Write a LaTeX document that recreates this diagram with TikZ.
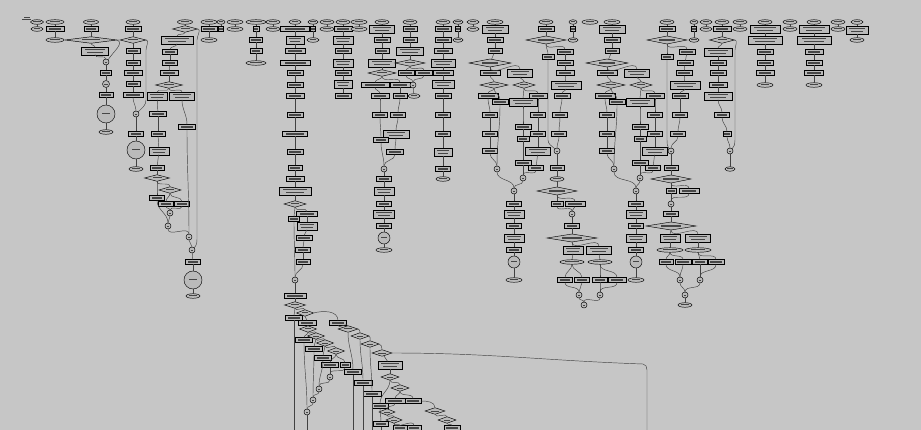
\documentclass[tikz,border=0pt]{standalone}
\usetikzlibrary{shapes.geometric,calc}
\definecolor{bgc}{RGB}{198,198,198}
\definecolor{bxf}{RGB}{186,186,186}
\definecolor{txc}{RGB}{70,70,70}
\definecolor{edc}{RGB}{65,65,65}
\tikzset{
 tb/.style 2 args={path picture={\fill[txc] ($(path picture bounding box.west)!#1!(path picture bounding box.east)+(0,#2)$) rectangle ($(path picture bounding box.east)!#1!(path picture bounding box.west)+(0,-#2)$);}},
 tbb/.style={path picture={\fill[txc] ($(path picture bounding box.west)!0.14!(path picture bounding box.east)+(0,2.0)$) rectangle ($(path picture bounding box.east)!0.14!(path picture bounding box.west)+(0,0.9)$); \fill[txc] ($(path picture bounding box.west)!0.22!(path picture bounding box.east)+(0,-0.9)$) rectangle ($(path picture bounding box.east)!0.22!(path picture bounding box.west)+(0,-2.0)$);}},
 shp/.style={draw=black,line width=0.45pt,fill=bxf,inner sep=0pt,outer sep=0pt},
 bx/.style={shp,rectangle,minimum height=5pt,tb={0.15}{0.55}},
 bb/.style={shp,rectangle,minimum height=7.5pt,tbb},
 el/.style={shp,ellipse,minimum height=4.6pt,tb={0.22}{0.5}},
 dm/.style={shp,diamond,minimum height=6.5pt,tb={0.32}{0.5}},
 dmh/.style={shp,diamond,minimum height=8pt,tb={0.3}{0.7}},
 ci/.style={shp,circle,tb={0.28}{0.4}},
 cc/.style={shp,circle,tb={0.28}{0.5}},
 ed/.style={draw=edc,line width=0.45pt},
}
\newcommand\Nd[5]{\node[#2,minimum width=#5pt] (#1) at (#3,-#4) {};}
\newcommand\Ln[2]{\draw[ed] (#1) -- (#2);}
\newcommand\Sc[2]{\draw[ed] (#1.south) to[out=-90,in=90] (#2.north);}
\newcommand\Rblock[3]{%
\Nd{#11}{el}{495+#2}{22}{16}
\Nd{#12}{bb}{495+#2}{29}{26}
\Nd{#13}{bx}{495+#2}{40}{16}
\Nd{#14}{bx}{495+#2}{51}{14}
\Nd{#15}{dmh}{490+#2}{63}{42}
\Nd{#16}{bx}{490+#2}{73}{20}
\Nd{#17}{bb}{520+#2}{73}{25}
\Nd{#18}{dm}{494+#2}{85}{28}
\Nd{#19}{dm}{524+#2}{85}{22}
\Nd{#110}{bx}{488+#2}{96}{20}
\Nd{#111}{bx}{500+#2}{102}{16}
\Nd{#112}{bb}{523+#2}{102}{28}
\Nd{#113}{bx}{538+#2}{96}{18}
\Nd{#114}{bx}{490+#2}{115}{15}
\Nd{#115}{bx}{490+#2}{134}{15}
\Nd{#116}{bx}{490+#2}{151}{15}
\Nd{#117}{ci}{497+#2}{169}{6}
\Nd{#118}{bx}{523+#2}{127}{16}
\Nd{#119}{bx}{523+#2}{139}{12}
\Nd{#120}{bx}{523+#2}{163}{16}
\Nd{#121}{ci}{523+#2}{178}{6}
\Nd{#122}{bx}{538+#2}{115}{15}
\Nd{#123}{bx}{538+#2}{134}{15}
\Nd{#124}{bb}{538+#2}{151}{25}
\Nd{#125}{bx}{536+#2}{168}{15}
\Nd{#126}{ci}{514+#3}{191}{6}
\Nd{#127}{bx}{514+#3}{204}{15}
\Nd{#128}{bb}{514+#3}{214}{20}
\Nd{#129}{bx}{514+#3}{226}{15}
\Nd{#130}{bb}{514+#3}{238}{20}
\Nd{#131}{bx}{514+#3}{250}{15}
\Nd{#132}{cc}{514+#3}{262}{12}
\Nd{#133}{el}{514+#3}{280}{16}
\Ln{#11}{#12}\Ln{#12}{#13}\Ln{#13}{#14}\Ln{#14}{#15}
\Sc{#15}{#16}\Sc{#15}{#17}\Sc{#16}{#18}\Sc{#17}{#19}
\Sc{#18}{#110}\Sc{#18}{#111}\Sc{#19}{#112}\Sc{#19}{#113}
\Sc{#110}{#114}\Ln{#114}{#115}\Ln{#115}{#116}\Sc{#116}{#117}\Sc{#111}{#117}
\Sc{#112}{#118}\Ln{#118}{#119}\Ln{#119}{#120}\Ln{#120}{#121}
\Sc{#113}{#122}\Ln{#122}{#123}\Ln{#123}{#124}\Ln{#124}{#125}\Sc{#125}{#121}
\Sc{#117}{#126}\Sc{#121}{#126}
\Ln{#126}{#127}\Ln{#127}{#128}\Ln{#128}{#129}\Ln{#129}{#130}\Ln{#130}{#131}\Ln{#131}{#132}\Ln{#132}{#133}
}
\begin{document}
\begin{tikzpicture}[x=1pt,y=1pt]
\useasboundingbox (0,0) rectangle (921,-430);
\fill[bgc] (0,0) rectangle (921,-430);
\clip (0,0) rectangle (921,-430);
% title mark
\fill[txc] (24,-16.6) rectangle (30,-17.5);
\fill[txc] (22,-19.2) rectangle (31,-20.1);
% A
\Nd{a1}{el}{37}{22}{13}\Nd{a2}{el}{37}{29}{12}\Ln{a1}{a2}
\Nd{a3}{el}{55}{22}{18}\Nd{a4}{bx}{55}{29}{18}\Nd{a5}{el}{55}{40}{18}\Ln{a3}{a4}\Ln{a4}{a5}
% B
\Nd{b1}{el}{91}{22}{15}\Nd{b2}{bx}{91}{29}{14}\Nd{b3}{dm}{91}{40}{52}\Nd{b4}{bb}{95}{51}{27}
\Nd{b5}{ci}{106}{62}{6}\Nd{b6}{bx}{106}{73}{11}\Nd{b7}{ci}{106}{84}{7}\Nd{b8}{bx}{106}{95}{14}
\Nd{b9}{cc}{106}{114}{18}\Nd{b10}{el}{106}{132}{14}
\Ln{b1}{b2}\Ln{b2}{b3}\Sc{b3}{b4}\Sc{b4}{b5}
\draw[ed] (b3.east) to[out=-20,in=60] (b5.north east);
\Ln{b5}{b6}\Ln{b6}{b7}\Ln{b7}{b8}\Ln{b8}{b9}\Ln{b9}{b10}
% C
\Nd{c1}{el}{133}{22}{14}\Nd{c2}{bx}{133}{29}{16}\Nd{c3}{dm}{133}{40}{26}\Nd{c4}{bx}{133}{51}{14}
\Nd{c5}{bx}{133}{63}{14}\Nd{c6}{bx}{133}{73}{18}\Nd{c7}{bx}{133}{84}{14}\Nd{c8}{bx}{133}{95}{20}
\Nd{c9}{ci}{136}{114}{6}\Nd{c10}{bx}{136}{134}{15}\Nd{c11}{cc}{136}{150}{18}\Nd{c12}{el}{136}{169}{14}
\Ln{c1}{c2}\Ln{c2}{c3}\Ln{c3}{c4}\Ln{c4}{c5}\Ln{c5}{c6}\Ln{c6}{c7}\Ln{c7}{c8}\Sc{c8}{c9}
\Ln{c9}{c10}\Ln{c10}{c11}\Ln{c11}{c12}
\draw[ed] (c3.east) to[out=0,in=90] (146,-50) -- (146,-100) to[out=-90,in=45] (c9.north east);
% D
\Nd{d1}{el}{185}{22}{15}\Nd{d2}{dm}{185}{29}{25}\Nd{d3}{bb}{177}{40}{32}\Nd{d4}{bx}{170}{52}{15}
\Nd{d5}{bx}{170}{63}{15}\Nd{d6}{bx}{169}{73}{18}\Nd{d7}{dm}{169}{85}{27}\Nd{d8}{bb}{157}{96}{20}
\Nd{d9}{bb}{182}{96}{25}\Nd{d10}{bx}{158}{114}{17}\Nd{d11}{bx}{158}{134}{14}\Nd{d12}{bb}{159}{151}{20}
\Nd{d13}{bx}{157}{168}{14}\Nd{d14}{dm}{157}{178}{25}\Nd{d15}{bx}{157}{198}{15}\Nd{d16}{dm}{170}{190}{22}
\Nd{d17}{bx}{166}{204}{15}\Nd{d18}{bx}{182}{204}{15}\Nd{d19}{ci}{170}{213}{6}\Nd{d20}{ci}{168}{226}{6}
\Nd{d21}{bx}{187}{127}{17}\Nd{d22}{ci}{189}{237}{6}\Nd{d23}{ci}{192}{250}{6}\Nd{d24}{bx}{193}{262}{15}
\Nd{d25}{cc}{193}{280}{18}\Nd{d26}{el}{193}{296}{14}
\Ln{d1}{d2}\Sc{d2}{d3}\Sc{d3}{d4}\Ln{d4}{d5}\Ln{d5}{d6}\Ln{d6}{d7}\Sc{d7}{d8}\Sc{d7}{d9}
\Ln{d8}{d10}\Ln{d10}{d11}\Ln{d11}{d12}\Ln{d12}{d13}\Ln{d13}{d14}\Sc{d14}{d15}\Sc{d14}{d16}
\Sc{d16}{d17}\Sc{d16}{d18}\Sc{d17}{d19}\Sc{d18}{d19}\Sc{d19}{d20}\Sc{d15}{d20}\Sc{d20}{d22}
\Sc{d9}{d21}\Sc{d21}{d22}\Sc{d22}{d23}
\draw[ed] (d2.east) to[out=0,in=90] (197,-40) -- (197,-238) to[out=-90,in=45] (d23.north east);
\Ln{d23}{d24}\Ln{d24}{d25}\Ln{d25}{d26}
% E
\Nd{e1}{el}{209}{22}{16}\Nd{e2}{bx}{209}{29}{16}\Nd{e3}{el}{209}{40}{16}\Ln{e1}{e2}\Ln{e2}{e3}
\Nd{e4}{el}{221}{22}{8}\Nd{e5}{bx}{221}{29}{5}\Ln{e4}{e5}
\Nd{e6}{el}{235}{22}{16}\Nd{e7}{el}{235}{29}{16}\Ln{e6}{e7}
% F G
\Nd{f1}{el}{256}{22}{20}\Nd{f2}{bx}{256}{29}{6}\Nd{f3}{bx}{256}{40}{13}\Nd{f4}{bx}{256}{51}{12}\Nd{f5}{el}{256}{63}{20}
\Ln{f1}{f2}\Ln{f2}{f3}\Ln{f3}{f4}\Ln{f4}{f5}
\Nd{g1}{el}{273}{22}{14}\Nd{g2}{el}{273}{29}{14}\Ln{g1}{g2}
% H
\Nd{h1}{el}{295}{22}{12}\Nd{h2}{bx}{295}{29}{29}\Nd{h3}{bb}{295}{40}{18}\Nd{h4}{bx}{295}{51}{20}
\Nd{h5}{bx}{295}{63}{30}\Nd{h6}{bx}{295}{73}{16}\Nd{h7}{bx}{295}{85}{16}\Nd{h8}{bx}{295}{96}{18}
\Nd{h9}{bx}{295}{115}{16}\Nd{h10}{bx}{295}{134}{25}\Nd{h11}{bx}{295}{152}{16}\Nd{h12}{bx}{295}{168}{14}
\Nd{h13}{bx}{295}{179}{18}\Nd{h14}{bb}{295}{191}{32}\Nd{h15}{dm}{295}{204}{22}\Nd{h16}{bx}{294}{219}{11}
\Nd{h17}{bx}{307}{214}{21}\Nd{h18}{bb}{307}{226}{20}\Nd{h19}{bx}{304}{238}{16}\Nd{h20}{bx}{303}{250}{15}
\Nd{h21}{bx}{303}{262}{14}\Nd{h22}{ci}{295}{280}{6}\Nd{h23}{bx}{295}{296}{22}
\Ln{h1}{h2}\Ln{h2}{h3}\Ln{h3}{h4}\Ln{h4}{h5}\Ln{h5}{h6}\Ln{h6}{h7}\Ln{h7}{h8}\Ln{h8}{h9}\Ln{h9}{h10}
\Ln{h10}{h11}\Ln{h11}{h12}\Ln{h12}{h13}\Ln{h13}{h14}\Ln{h14}{h15}\Sc{h15}{h16}\Sc{h15}{h17}
\Ln{h17}{h18}\Sc{h18}{h19}\Sc{h19}{h20}\Ln{h20}{h21}\Sc{h21}{h22}\Sc{h16}{h22}\Ln{h22}{h23}
% I J K L
\Nd{i1}{el}{313}{22}{10}\Nd{i2}{bx}{313}{29}{5}\Nd{i3}{el}{313}{40}{12}\Ln{i1}{i2}\Ln{i2}{i3}
\Nd{j1}{el}{327}{22}{14}\Nd{j2}{el}{327}{29}{14}\Ln{j1}{j2}
\Nd{k1}{el}{343}{22}{14}\Nd{k2}{bx}{343}{29}{18}\Nd{k3}{bb}{343}{40}{20}\Nd{k4}{bx}{343}{51}{16}
\Nd{k5}{bb}{343}{63}{20}\Nd{k6}{bx}{343}{73}{16}\Nd{k7}{bb}{343}{84}{18}\Nd{k8}{bx}{343}{96}{16}
\Ln{k1}{k2}\Ln{k2}{k3}\Ln{k3}{k4}\Ln{k4}{k5}\Ln{k5}{k6}\Ln{k6}{k7}\Ln{k7}{k8}
\Nd{l1}{el}{359}{22}{16}\Nd{l2}{el}{359}{29}{16}\Ln{l1}{l2}
% M
\Nd{m1}{el}{382}{22}{14}\Nd{m2}{bb}{382}{29}{25}\Nd{m3}{bx}{382}{40}{16}\Nd{m4}{bx}{382}{51}{14}
\Nd{m5}{bb}{382}{63}{27}\Nd{m6}{dm}{382}{73}{28}\Nd{m7}{bx}{375}{85}{28}\Nd{m8}{bx}{400}{85}{20}
\Nd{m9}{bx}{380}{96}{18}\Nd{m10}{bx}{400}{96}{14}\Nd{m11}{bx}{380}{115}{15}\Nd{m12}{bx}{398}{115}{15}
\Nd{m13}{bb}{396}{134}{26}\Nd{m14}{bx}{381}{140}{15}\Nd{m15}{bx}{395}{152}{17}\Nd{m16}{ci}{384}{169}{6}
\Nd{m17}{bx}{384}{179}{15}\Nd{m18}{bb}{384}{191}{20}\Nd{m19}{bx}{384}{204}{15}\Nd{m20}{bb}{384}{214}{21}
\Nd{m21}{bx}{384}{226}{15}\Nd{m22}{cc}{384}{238}{12}\Nd{m23}{el}{384}{250}{16}
\Ln{m1}{m2}\Ln{m2}{m3}\Ln{m3}{m4}\Ln{m4}{m5}\Ln{m5}{m6}\Sc{m6}{m7}\Sc{m6}{m8}\Sc{m7}{m9}\Sc{m8}{m10}
\Sc{m9}{m11}\Sc{m10}{m12}\Sc{m12}{m13}\Sc{m11}{m14}\Sc{m13}{m15}\Sc{m14}{m16}\Sc{m15}{m16}
\Ln{m16}{m17}\Ln{m17}{m18}\Ln{m18}{m19}\Ln{m19}{m20}\Ln{m20}{m21}\Ln{m21}{m22}\Ln{m22}{m23}
% N
\Nd{n1}{el}{410}{22}{14}\Nd{n2}{bx}{410}{29}{14}\Nd{n3}{bx}{410}{40}{14}\Nd{n4}{bb}{410}{51}{27}
\Nd{n5}{dm}{410}{63}{30}\Nd{n6}{bx}{406}{73}{16}\Nd{n7}{bx}{424}{73}{17}\Nd{n8}{ci}{413}{85}{6}\Nd{n9}{el}{414}{96}{12}
\Ln{n1}{n2}\Ln{n2}{n3}\Ln{n3}{n4}\Ln{n4}{n5}\Sc{n5}{n6}\Sc{n5}{n7}\Sc{n6}{n8}\Sc{n7}{n8}\Ln{n8}{n9}
% O
\Nd{o1}{el}{443}{22}{14}\Nd{o2}{bx}{443}{29}{16}\Nd{o3}{bx}{443}{40}{16}\Nd{o4}{bx}{443}{51}{18}
\Nd{o5}{bb}{443}{63}{24}\Nd{o6}{bx}{443}{73}{20}\Nd{o7}{bb}{443}{84}{22}\Nd{o8}{bx}{443}{96}{16}
\Nd{o9}{bx}{443}{115}{15}\Nd{o10}{bx}{443}{134}{15}\Nd{o11}{bb}{443}{152}{18}\Nd{o12}{bx}{443}{169}{15}\Nd{o13}{el}{443}{179}{14}
\Ln{o1}{o2}\Ln{o2}{o3}\Ln{o3}{o4}\Ln{o4}{o5}\Ln{o5}{o6}\Ln{o6}{o7}\Ln{o7}{o8}\Ln{o8}{o9}\Ln{o9}{o10}
\Ln{o10}{o11}\Ln{o11}{o12}\Ln{o12}{o13}
% P Q
\Nd{p1}{el}{458}{22}{10}\Nd{p2}{bx}{458}{29}{5}\Nd{p3}{el}{458}{40}{10}\Ln{p1}{p2}\Ln{p2}{p3}
\Nd{q1}{el}{473}{22}{12}\Nd{q2}{el}{473}{29}{12}\Ln{q1}{q2}
% R and V blocks
\Rblock{r}{0}{0}
\Rblock{v}{117}{122}
% S
\Nd{s1}{el}{546}{22}{14}\Nd{s2}{bx}{546}{29}{16}\Nd{s3}{dmh}{546}{40}{40}\Nd{s4}{bx}{548}{57}{12}
\Nd{s5}{bx}{565}{52}{16}\Nd{s6}{bx}{565}{63}{16}\Nd{s7}{bx}{565}{73}{18}\Nd{s8}{bb}{566}{85}{30}
\Nd{s9}{bx}{562}{96}{16}\Nd{s10}{bx}{560}{115}{15}\Nd{s11}{bx}{559}{134}{15}\Nd{s12}{ci}{557}{151}{6}
\Nd{s13}{bx}{557}{168}{14}\Nd{s14}{el}{557}{179}{14}\Nd{s15}{dmh}{557}{191}{40}\Nd{s16}{bx}{557}{204}{12}
\Nd{s17}{bx}{575}{204}{20}\Nd{s18}{ci}{572}{214}{6}\Nd{s19}{bx}{572}{226}{15}\Nd{s20}{dmh}{572}{238}{50}
\Nd{s21}{bb}{573}{250}{20}\Nd{s22}{bb}{599}{250}{25}\Nd{s23}{el}{572}{262}{24}\Nd{s24}{el}{600}{262}{24}
\Nd{s25}{bx}{565}{280}{15}\Nd{s26}{bx}{582}{280}{15}\Nd{s27}{bx}{600}{280}{15}\Nd{s28}{bx}{617}{280}{18}
\Nd{s29}{ci}{579}{295}{6}\Nd{s30}{ci}{600}{295}{6}\Nd{s31}{ci}{584}{305}{6}
\Ln{s1}{s2}\Ln{s2}{s3}\Sc{s3}{s4}\Sc{s3}{s5}\Ln{s5}{s6}\Ln{s6}{s7}\Ln{s7}{s8}\Sc{s8}{s9}\Sc{s9}{s10}
\Sc{s10}{s11}\Sc{s11}{s12}
\draw[ed] (s4.south) -- (548,-140) to[out=-90,in=135] (s12.north west);
\Ln{s12}{s13}\Ln{s13}{s14}\Ln{s14}{s15}\Sc{s15}{s16}\Sc{s15}{s17}\Sc{s16}{s18}\Sc{s17}{s18}
\Ln{s18}{s19}\Ln{s19}{s20}\Sc{s20}{s21}\Sc{s20}{s22}\Sc{s21}{s23}\Sc{s22}{s24}\Sc{s23}{s25}\Sc{s23}{s26}
\Sc{s24}{s27}\Sc{s24}{s28}\Sc{s25}{s29}\Sc{s26}{s29}\Sc{s27}{s30}\Sc{s28}{s30}\Sc{s29}{s31}\Sc{s30}{s31}
% T U
\Nd{t1}{el}{573}{22}{8}\Nd{t2}{bx}{573}{29}{5}\Nd{t3}{el}{573}{40}{10}\Ln{t1}{t2}\Ln{t2}{t3}
\Nd{u1}{el}{590}{22}{16}
% W
\Nd{w1}{el}{667}{22}{14}\Nd{w2}{bx}{667}{29}{16}\Nd{w3}{dmh}{667}{40}{40}\Nd{w4}{bx}{667}{57}{12}
\Nd{w5}{bx}{687}{52}{16}\Nd{w6}{bx}{685}{63}{16}\Nd{w7}{bx}{684}{73}{16}\Nd{w8}{bb}{685}{85}{30}
\Nd{w9}{bx}{680}{96}{16}\Nd{w10}{bx}{680}{115}{15}\Nd{w11}{bx}{678}{134}{15}\Nd{w12}{ci}{671}{151}{6}
\Nd{w13}{bx}{671}{168}{14}\Nd{w14}{dmh}{671}{179}{40}\Nd{w15}{bx}{671}{191}{10}\Nd{w16}{bx}{689}{191}{20}
\Nd{w17}{ci}{671}{204}{6}\Nd{w18}{bx}{671}{214}{15}\Nd{w19}{dmh}{671}{226}{50}\Nd{w20}{bb}{670}{238}{20}
\Nd{w21}{bb}{698}{238}{25}\Nd{w22}{el}{670}{250}{26}\Nd{w23}{el}{698}{250}{26}\Nd{w24}{bx}{666}{262}{14}
\Nd{w25}{bx}{683}{262}{16}\Nd{w26}{bx}{700}{262}{15}\Nd{w27}{bx}{716}{262}{16}\Nd{w28}{ci}{680}{280}{6}
\Nd{w29}{ci}{700}{280}{6}\Nd{w30}{ci}{685}{295}{6}\Nd{w31}{el}{685}{305}{14}
\Ln{w1}{w2}\Ln{w2}{w3}\Sc{w3}{w4}\Sc{w3}{w5}\Ln{w5}{w6}\Ln{w6}{w7}\Ln{w7}{w8}\Sc{w8}{w9}\Ln{w9}{w10}
\Sc{w10}{w11}\Sc{w11}{w12}
\draw[ed] (w4.south) -- (667,-140) to[out=-90,in=120] (w12.north west);
\Ln{w12}{w13}\Ln{w13}{w14}\Sc{w14}{w15}\Sc{w14}{w16}\Ln{w15}{w17}\Sc{w16}{w17}\Ln{w17}{w18}\Ln{w18}{w19}
\Sc{w19}{w20}\Sc{w19}{w21}\Ln{w20}{w22}\Ln{w21}{w23}\Sc{w22}{w24}\Sc{w22}{w25}\Sc{w23}{w26}\Sc{w23}{w27}
\Sc{w24}{w28}\Sc{w25}{w28}\Ln{w26}{w29}\Sc{w27}{w29}\Sc{w28}{w30}\Sc{w29}{w30}\Ln{w30}{w31}
% X Y
\Nd{x1}{el}{694}{22}{8}\Nd{x2}{bx}{694}{29}{5}\Nd{x3}{el}{694}{40}{10}\Ln{x1}{x2}\Ln{x2}{x3}
\Nd{y1}{el}{706}{22}{12}\Nd{y2}{el}{706}{29}{12}\Ln{y1}{y2}
% Z
\Nd{z1}{el}{722}{22}{14}\Nd{z2}{bx}{722}{29}{18}\Nd{z3}{dm}{722}{40}{25}\Nd{z4}{bb}{718}{52}{28}
\Nd{z5}{bx}{718}{63}{16}\Nd{z6}{bx}{718}{73}{16}\Nd{z7}{bx}{718}{85}{18}\Nd{z8}{bb}{718}{96}{28}
\Nd{z9}{bx}{722}{115}{15}\Nd{z10}{bx}{727}{134}{8}\Nd{z11}{ci}{730}{151}{6}\Nd{z12}{el}{730}{169}{10}
\Ln{z1}{z2}\Ln{z2}{z3}\Sc{z3}{z4}\Ln{z4}{z5}\Ln{z5}{z6}\Ln{z6}{z7}\Ln{z7}{z8}\Sc{z8}{z9}\Sc{z9}{z10}\Sc{z10}{z11}
\draw[ed] (z3.east) to[out=0,in=90] (735,-50) -- (735,-140) to[out=-90,in=45] (z11.north east);
\Ln{z11}{z12}
% AA..FF
\Nd{aa1}{el}{740}{22}{14}\Nd{aa2}{el}{740}{29}{14}\Ln{aa1}{aa2}
\Nd{bb1}{el}{765}{22}{14}\Nd{bb2}{bb}{765}{29}{30}\Nd{bb3}{bb}{765}{40}{34}\Nd{bb4}{bx}{765}{52}{16}
\Nd{bb5}{bx}{765}{63}{16}\Nd{bb6}{bx}{765}{73}{18}\Nd{bb7}{el}{765}{85}{16}
\Ln{bb1}{bb2}\Ln{bb2}{bb3}\Ln{bb3}{bb4}\Ln{bb4}{bb5}\Ln{bb5}{bb6}\Ln{bb6}{bb7}
\Nd{cc1}{el}{790}{22}{14}\Nd{cc2}{el}{790}{29}{14}\Ln{cc1}{cc2}
\Nd{dd1}{el}{814}{22}{14}\Nd{dd2}{bb}{814}{29}{30}\Nd{dd3}{bb}{814}{40}{34}\Nd{dd4}{bx}{814}{52}{18}
\Nd{dd5}{bx}{814}{63}{16}\Nd{dd6}{bx}{814}{73}{19}\Nd{dd7}{el}{814}{85}{16}
\Ln{dd1}{dd2}\Ln{dd2}{dd3}\Ln{dd3}{dd4}\Ln{dd4}{dd5}\Ln{dd5}{dd6}\Ln{dd6}{dd7}
\Nd{ee1}{el}{838}{22}{14}\Nd{ee2}{el}{838}{29}{14}\Ln{ee1}{ee2}
\Nd{ff1}{el}{857}{22}{12}\Nd{ff2}{bb}{857}{30}{22}\Nd{ff3}{el}{857}{40}{14}\Ln{ff1}{ff2}\Ln{ff2}{ff3}
% cascade (left)
\Nd{ca1}{dm}{295}{305}{21}\Nd{ca2}{bx}{294}{318}{17}\Nd{ca3}{dm}{305}{313}{17}\Nd{ca4}{bx}{307}{323}{18}
\Nd{ca5}{dm}{308}{329}{17}\Nd{ca6}{bx}{304}{340}{17}\Nd{ca7}{dm}{316}{336}{17}\Nd{ca8}{bx}{314}{349}{17}
\Nd{ca9}{dm}{325}{343}{17}\Nd{ca10}{bx}{323}{358}{17}\Nd{ca11}{dm}{336}{351}{17}\Nd{ca12}{bx}{330}{365}{17}
\Nd{ca13}{bx}{345}{365}{10}\Nd{ca14}{ci}{330}{377}{6}\Nd{ca15}{ci}{319}{389}{6}\Nd{ca16}{ci}{313}{400}{6}
\Nd{ca17}{ci}{307}{412}{6}
\coordinate (bz1) at (294,-434);\coordinate (bz2) at (307,-434);
\Ln{h23}{ca1}\Sc{ca1}{ca2}\Ln{ca2}{bz1}\Sc{ca1}{ca3}\Sc{ca3}{ca4}\Ln{ca4}{ca5}\Sc{ca5}{ca6}\Sc{ca5}{ca7}
\Sc{ca7}{ca8}\Sc{ca7}{ca9}\Sc{ca9}{ca10}\Sc{ca9}{ca11}\Sc{ca11}{ca12}\Sc{ca11}{ca13}\Sc{ca12}{ca14}
\Sc{ca13}{ca14}\Sc{ca10}{ca15}\Sc{ca14}{ca15}\Sc{ca8}{ca16}\Sc{ca15}{ca16}\Sc{ca6}{ca17}\Sc{ca16}{ca17}
\Ln{ca17}{bz2}
% cascade (right)
\Nd{cb1}{bx}{338}{323}{17}\Nd{cb2}{dm}{348}{329}{20}\Nd{cb3}{dm}{360}{336}{18}\Nd{cb4}{dm}{370}{344}{18}
\Nd{cb5}{dm}{382}{353}{20}\Nd{cb6}{bx}{353}{372}{17}\Nd{cb7}{bx}{363}{383}{18}\Nd{cb8}{bx}{372}{394}{18}
\Nd{cb9}{bx}{380}{406}{16}\Nd{cb10}{bb}{390}{365}{24}\Nd{cb11}{dm}{390}{377}{18}\Nd{cb12}{dm}{400}{388}{18}
\Nd{cb13}{bx}{395}{401}{20}\Nd{cb14}{bx}{413}{401}{16}\Nd{cb15}{dm}{435}{411}{20}\Nd{cb16}{dm}{447}{420}{18}
\Nd{cb17}{bx}{452}{428}{16}\Nd{cb18}{dm}{387}{412}{16}\Nd{cb19}{dm}{394}{420}{16}\Nd{cb20}{bx}{381}{424}{15}
\Nd{cb21}{bx}{400}{428}{14}\Nd{cb22}{bx}{414}{428}{14}
\coordinate (bz3) at (353,-434);\coordinate (bz4) at (363,-434);\coordinate (bz5) at (372,-434);
\coordinate (bz6) at (381,-434);\coordinate (bz7) at (647,-434);
\draw[ed] (ca3.east) to[out=15,in=90] (cb1.north);
\Sc{cb1}{cb2}\draw[ed] (cb2.east) to[out=0,in=90] (cb3.north);\draw[ed] (cb3.east) to[out=0,in=90] (cb4.north);
\draw[ed] (cb4.east) to[out=0,in=90] (cb5.north);
\Sc{cb2}{cb6}\Sc{cb3}{cb7}\Sc{cb4}{cb8}\Ln{cb6}{bz3}\Ln{cb7}{bz4}\Ln{cb8}{bz5}
\Ln{cb5}{cb10}\Ln{cb10}{cb11}\Sc{cb11}{cb12}\Sc{cb11}{cb9}\Sc{cb12}{cb13}\Sc{cb12}{cb14}
\draw[ed] (cb14.east) to[out=0,in=90] (cb15.north);\Sc{cb15}{cb16}\Sc{cb16}{cb17}
\Sc{cb13}{cb18}\Sc{cb18}{cb19}\Sc{cb19}{cb21}\Sc{cb19}{cb22}\Sc{cb9}{cb20}\Ln{cb20}{bz6}
\draw[ed] (cb5.east) to[out=0,in=178] (643,-364) to[out=-2,in=90] (647,-370) -- (bz7);
\end{tikzpicture}
\end{document}
